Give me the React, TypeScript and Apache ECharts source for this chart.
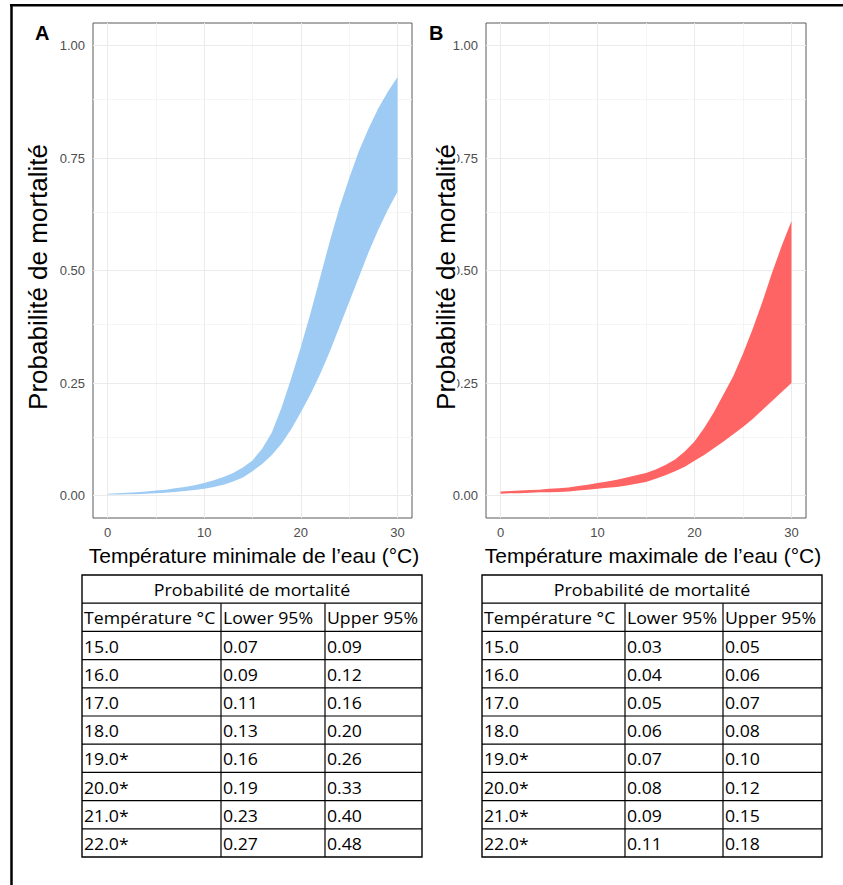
import React, { useEffect, useRef } from "react";
import * as echarts from "echarts";

// ---------- data ----------
const temperature = [0, 1, 2, 3, 4, 5, 6, 7, 8, 9, 10, 11, 12, 13, 14, 15, 16, 17, 18, 19, 20, 21, 22, 23, 24, 25, 26, 27, 28, 29, 30];
const lowerMin = [0.002, 0.002, 0.003, 0.003, 0.004, 0.005, 0.006, 0.008, 0.01, 0.012, 0.015, 0.019, 0.024, 0.031, 0.04, 0.054, 0.07, 0.09, 0.115, 0.147, 0.185, 0.225, 0.27, 0.32, 0.375, 0.43, 0.485, 0.54, 0.59, 0.635, 0.675];
const upperMin = [0.004, 0.005, 0.006, 0.007, 0.009, 0.011, 0.013, 0.016, 0.019, 0.023, 0.028, 0.034, 0.041, 0.05, 0.062, 0.078, 0.104, 0.14, 0.195, 0.26, 0.33, 0.405, 0.485, 0.565, 0.64, 0.705, 0.765, 0.815, 0.86, 0.897, 0.93];
const lowerMax = [0.004, 0.005, 0.005, 0.006, 0.007, 0.007, 0.008, 0.009, 0.011, 0.013, 0.015, 0.017, 0.019, 0.022, 0.026, 0.03, 0.037, 0.045, 0.054, 0.064, 0.077, 0.09, 0.105, 0.12, 0.136, 0.152, 0.17, 0.19, 0.21, 0.23, 0.25];
const upperMax = [0.009, 0.01, 0.011, 0.012, 0.013, 0.015, 0.016, 0.018, 0.021, 0.024, 0.028, 0.031, 0.035, 0.04, 0.045, 0.05, 0.058, 0.068, 0.08, 0.098, 0.12, 0.15, 0.185, 0.225, 0.265, 0.315, 0.37, 0.43, 0.495, 0.555, 0.61];

const xTicks = [0, 10, 20, 30];
const xMinor = [5, 15, 25];
const yTicks = [0, 0.25, 0.5, 0.75, 1];
const yMinor = [0.125, 0.375, 0.625, 0.875];

const panelLetters = ["A", "B"];
const yTitle = "Probabilité de mortalité";
const xTitles = ["Température minimale de l’eau (°C)", "Température maximale de l’eau (°C)"];

const tableTitle = "Probabilité de mortalité";
const tableHeaders = ["Température °C", "Lower 95%", "Upper 95%"];
const tableTemps = ["15.0", "16.0", "17.0", "18.0", "19.0*", "20.0*", "21.0*", "22.0*"];
const tableLowerMin = [0.07, 0.09, 0.11, 0.13, 0.16, 0.19, 0.23, 0.27];
const tableUpperMin = [0.09, 0.12, 0.16, 0.2, 0.26, 0.33, 0.4, 0.48];
const tableLowerMax = [0.03, 0.04, 0.05, 0.06, 0.07, 0.08, 0.09, 0.11];
const tableUpperMax = [0.05, 0.06, 0.07, 0.08, 0.1, 0.12, 0.15, 0.18];

const colors = ["#9DCBF3", "#FF6464"];

// ---------- layout ----------
const grids = [
  { left: 93, top: 23, width: 319, height: 495 },
  { left: 486, top: 23, width: 320, height: 495 },
];
const tableCols = [
  [82, 221, 325, 422],
  [482, 625, 723, 822],
];
const tableTop = 575;
const rowH = 28.2;
const AX_FONT = '"Liberation Sans", Arial, sans-serif';
const TB_FONT = '"Open Sans", "Noto Sans", sans-serif';

function gridMarkLines() {
  const major = { color: "#EBEBEB", width: 1, type: "solid" };
  const minor = { color: "#F3F3F3", width: 0.8, type: "solid" };
  return [
    ...xMinor.map((v) => ({ xAxis: v, lineStyle: minor })),
    ...yMinor.map((v) => ({ yAxis: v, lineStyle: minor })),
    ...xTicks.map((v) => ({ xAxis: v, lineStyle: major })),
    ...yTicks.map((v) => ({ yAxis: v, lineStyle: major })),
  ];
}

function panelSeries(i: number, lower: number[], upper: number[], color: string) {
  const rows = temperature.map((t, k) => [t, lower[k], upper[k]]);
  return [
    {
      type: "custom",
      xAxisIndex: i,
      yAxisIndex: i,
      data: rows,
      silent: true,
      z: 3,
      encode: { x: 0, y: [1, 2] },
      renderItem: (params: any, api: any) => {
        if (params.dataIndex !== 0) return null;
        const top = rows.map((r) => api.coord([r[0], r[2]]));
        const bottom = rows.map((r) => api.coord([r[0], r[1]])).reverse();
        return {
          type: "polygon",
          shape: { points: top.concat(bottom) },
          style: { fill: color, stroke: "none" },
        };
      },
      markLine: {
        silent: true,
        symbol: ["none", "none"],
        z: 1,
        label: { show: false },
        emphasis: { disabled: true },
        data: gridMarkLines(),
      },
    },
  ];
}

function tableElements(cols: number[], lows: number[], ups: number[]) {
  const els: any[] = [];
  const nRows = 2 + tableTemps.length;
  const left = cols[0];
  const right = cols[3];
  const bottom = tableTop + nRows * rowH;
  const lineStyle = { stroke: "#000", lineWidth: 1.2 };
  els.push({
    type: "rect",
    z: 50,
    shape: { x: left, y: tableTop, width: right - left, height: nRows * rowH },
    style: { fill: "#fff", stroke: "#000", lineWidth: 1.4 },
  });
  for (let r = 1; r < nRows; r++) {
    const y = tableTop + r * rowH;
    els.push({ type: "line", z: 51, shape: { x1: left, y1: y, x2: right, y2: y }, style: lineStyle });
  }
  [cols[1], cols[2]].forEach((x) => {
    els.push({ type: "line", z: 51, shape: { x1: x, y1: tableTop + rowH, x2: x, y2: bottom }, style: lineStyle });
  });
  const textStyle = (text: string, align: string) => ({
    text,
    font: '15.5px ' + TB_FONT,
    fill: "#000",
    textAlign: align,
    textVerticalAlign: "middle",
  });
  els.push({
    type: "text",
    z: 52,
    x: (left + right) / 2,
    y: tableTop + rowH / 2 + 1,
    scaleX: 1.15,
    style: textStyle(tableTitle, "center"),
  });
  tableHeaders.forEach((h, c) => {
    els.push({
      type: "text",
      z: 52,
      x: cols[c] + 2,
      y: tableTop + rowH * 1.5 + 1,
      scaleX: 1.14,
      style: textStyle(h, "left"),
    });
  });
  tableTemps.forEach((t, k) => {
    const y = tableTop + rowH * (2.5 + k) + 1;
    const vals = [t, lows[k].toFixed(2), ups[k].toFixed(2)];
    vals.forEach((v, c) => {
      els.push({ type: "text", z: 52, x: cols[c] + 2, y, scaleX: 1.14, style: textStyle(v, "left") });
    });
  });
  return els;
}

export default function App() {
  const ref = useRef<HTMLDivElement>(null);

  useEffect(() => {
    if (!ref.current) return;
    const chart = echarts.init(ref.current, undefined, { renderer: "svg" });

    const axisLabelStyle = { color: "#4D4D4D", fontSize: 13, fontFamily: AX_FONT };

    const graphic: any[] = [
      // figure frame
      { type: "line", z: 100, shape: { x1: 11.5, y1: 4, x2: 11.5, y2: 885 }, style: { stroke: "#000", lineWidth: 2.5 } },
      { type: "line", z: 100, shape: { x1: 10, y1: 5.3, x2: 843, y2: 5.3 }, style: { stroke: "#000", lineWidth: 2.5 } },
      // panel letters
      { type: "text", z: 100, x: 35, y: 33, style: { text: panelLetters[0], font: 'bold 20px ' + AX_FONT, fill: "#000", textAlign: "left", textVerticalAlign: "middle" } },
      { type: "text", z: 100, x: 429, y: 33, style: { text: panelLetters[1], font: 'bold 20px ' + AX_FONT, fill: "#000", textAlign: "left", textVerticalAlign: "middle" } },
      // white box behind B's y title (it hides the leading "0" of ticks)
      { type: "rect", z: 99, shape: { x: 432, y: 140, width: 25, height: 274 }, style: { fill: "#fff" } },
      // y titles
      { type: "text", z: 100, x: 38, y: 277, rotation: Math.PI / 2, style: { text: yTitle, font: '26px ' + AX_FONT, fill: "#000", textAlign: "center", textVerticalAlign: "middle" } },
      { type: "text", z: 100, x: 446, y: 277, rotation: Math.PI / 2, style: { text: yTitle, font: '26px ' + AX_FONT, fill: "#000", textAlign: "center", textVerticalAlign: "middle" } },
      // x titles
      { type: "text", z: 100, x: 254, y: 555, style: { text: xTitles[0], font: '21px ' + AX_FONT, fill: "#000", textAlign: "center", textVerticalAlign: "middle" } },
      { type: "text", z: 100, x: 653, y: 555, style: { text: xTitles[1], font: '21px ' + AX_FONT, fill: "#000", textAlign: "center", textVerticalAlign: "middle" } },
      ...tableElements(tableCols[0], tableLowerMin, tableUpperMin),
      ...tableElements(tableCols[1], tableLowerMax, tableUpperMax),
    ];

    chart.setOption({
      animation: false,
      backgroundColor: "#fff",
      grid: grids.map((g) => ({
        ...g,
        show: true,
        borderColor: "#5a5a5a",
        borderWidth: 1,
        backgroundColor: "transparent",
      })),
      xAxis: [0, 1].map((i) => ({
        type: "value",
        gridIndex: i,
        min: -1.5,
        max: 31.5,
        splitLine: { show: false },
        axisLine: { show: false },
        axisTick: { show: true, customValues: xTicks, length: 4, lineStyle: { color: "#333", width: 1 } },
        axisLabel: { ...axisLabelStyle, customValues: xTicks, margin: 8 },
      })),
      yAxis: [0, 1].map((i) => ({
        type: "value",
        gridIndex: i,
        min: -0.05,
        max: 1.05,
        splitLine: { show: false },
        axisLine: { show: false },
        axisTick: { show: true, customValues: yTicks, length: 4, lineStyle: { color: "#333", width: 1 } },
        axisLabel: { ...axisLabelStyle, customValues: yTicks, margin: 8, formatter: (v: number) => v.toFixed(2) },
      })),
      series: [
        ...panelSeries(0, lowerMin, upperMin, colors[0]),
        ...panelSeries(1, lowerMax, upperMax, colors[1]),
      ],
      graphic,
    });

    return () => chart.dispose();
  }, []);

  return <div ref={ref} style={{ position: "absolute", left: 0, top: 0, width: 843, height: 885 }} />;
}
